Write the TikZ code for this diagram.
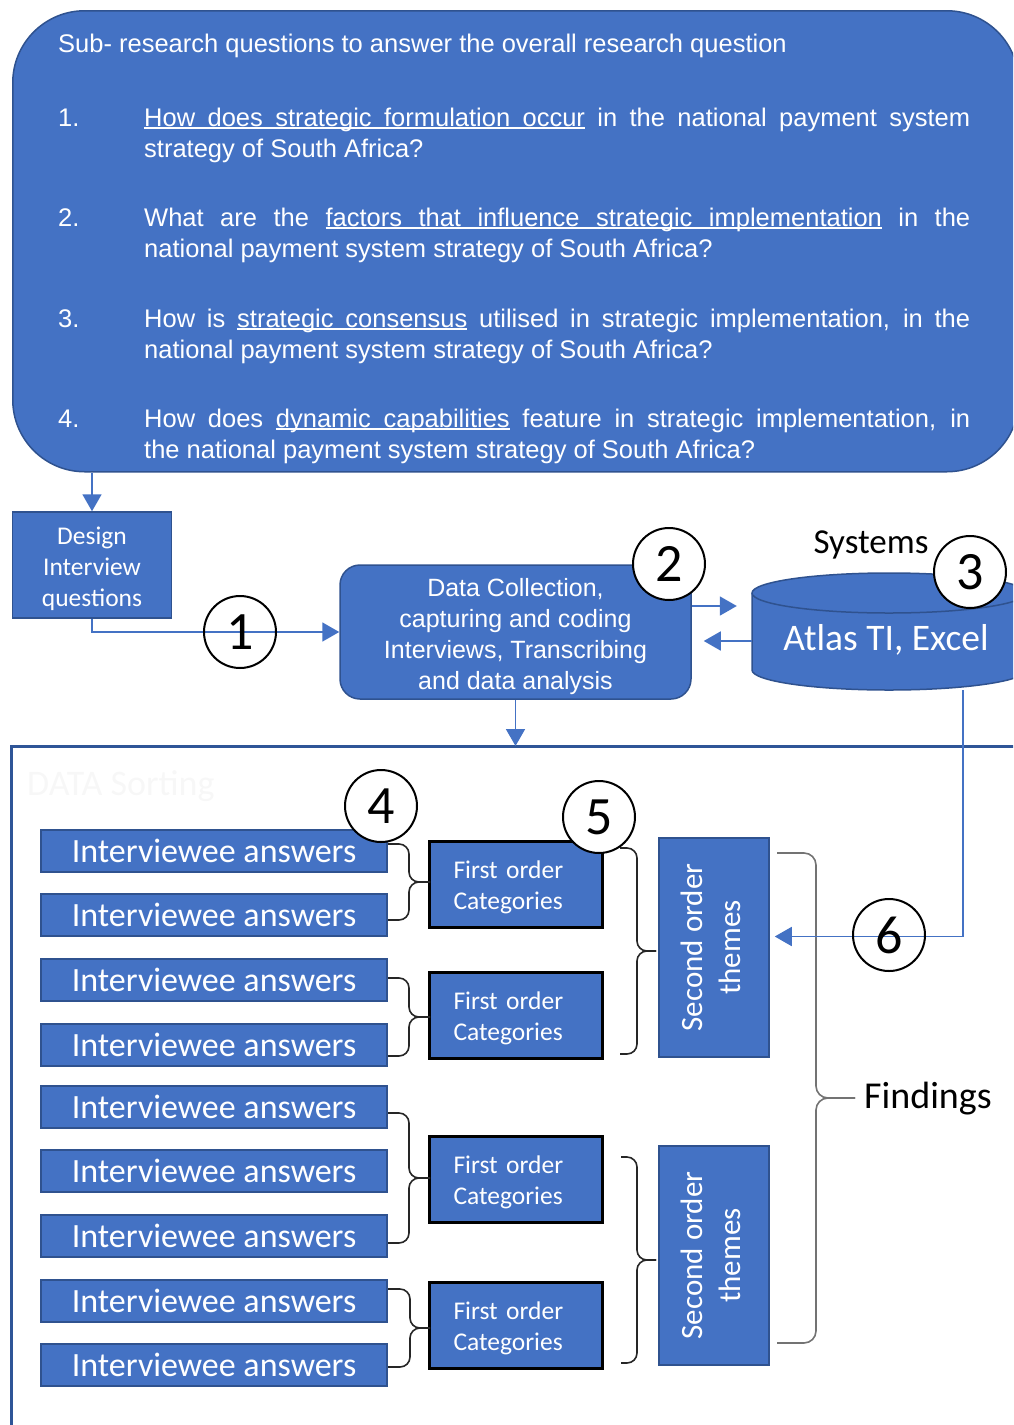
\documentclass[tikz,border=0pt]{standalone}
\usepackage{fontspec}
\setmainfont{Liberation Sans}
\newfontfamily\calfont{Carlito}
\usetikzlibrary{arrows.meta,calc}
\definecolor{boxblue}{HTML}{4472C4}
\definecolor{edgeblue}{HTML}{2F528F}
\definecolor{framecol}{HTML}{2F5597}

% underlined word and underlined (stretchable) interword space
\newcommand\ulw[1]{\leavevmode{\setbox0=\hbox{#1}\rlap{\vrule height -1.4pt depth 3pt width \wd0}\box0}}
\newcommand\ulsp{\leavevmode\leaders\hrule height -1.4pt depth 3pt\hskip\fontdimen2\font plus\fontdimen3\font minus\fontdimen4\font\relax}

% right-facing curly brace: x0, ytop, ybottom, xback, xtip
\newcommand\groupbrace[6][bracecol]{%
  \draw[bracestyle,#1] (#2,#3) -| (#5,{(#3+#4)/2}) -- (#6,{(#3+#4)/2});
  \draw[bracestyle,#1] (#2,#4) -| (#5,{(#3+#4)/2}) -- (#6,{(#3+#4)/2});
}

\begin{document}
\begin{tikzpicture}[x=1pt,y=-1pt,
  bluebox/.style={fill=boxblue, draw=edgeblue, line width=1.5pt, text=white, inner sep=0pt},
  ansbox/.style={bluebox, minimum width=346pt, minimum height=42pt,
    font=\calfont\fontsize{34}{40}\selectfont},
  fobox/.style={bluebox, draw=black, line width=3pt, minimum width=173pt, minimum height=86pt,
    text width=125pt, inner xsep=24pt, align=left, font=\calfont\fontsize{25.5}{31}\selectfont},
  sobox/.style={bluebox, minimum width=110pt, minimum height=219pt,
    font=\calfont\fontsize{31}{38}\selectfont},
  qtext/.style={text=white, inner sep=0pt, font=\fontsize{25.5}{31}\selectfont},
  numcirc/.style={circle, draw=black, line width=2pt, minimum size=72pt, inner sep=0pt,
    font=\calfont\fontsize{54}{60}\selectfont},
  arr/.style={draw=boxblue, line width=1.8pt, -{Triangle[length=17pt,width=19pt]}},
  bracestyle/.style={line width=1.6pt, rounded corners=10pt},
  bracecol/.style={draw=black!85},
  bigbrace/.style={draw=black!55, rounded corners=12pt},
  framestyle/.style={draw=framecol, line width=3pt}
]
\useasboundingbox (0,0) rectangle (1013,1425);
\clip (0,0) rectangle (1013,1425);

% ---------- research questions ----------
\node[bluebox, rounded corners=72pt, minimum width=1006pt, minimum height=461pt, anchor=north west]
  (rq) at (12,10) {};
\node[qtext, anchor=base west] (q0) at (58,52)
  {Sub- research questions to answer the overall research question};
\node[qtext, anchor=base west] (n1) at (58,126) {1.};
\node[qtext, anchor=base west] (q1) at (144,126) {\parbox[t]{826pt}{%
  \ulw{How}\ulsp\ulw{does}\ulsp\ulw{strategic}\ulsp\ulw{formulation}\ulsp\ulw{occur} in the national payment system\linebreak
  strategy of South Africa?}};
\node[qtext, anchor=base west] (n2) at (58,226) {2.};
\node[qtext, anchor=base west] (q2) at (144,226) {\parbox[t]{826pt}{%
  What are the \ulw{factors}\ulsp\ulw{that}\ulsp\ulw{influence}\ulsp\ulw{strategic}\ulsp\ulw{implementation} in the\linebreak
  national payment system strategy of South Africa?}};
\node[qtext, anchor=base west] (n3) at (58,327) {3.};
\node[qtext, anchor=base west] (q3) at (144,327) {\parbox[t]{826pt}{%
  How is \ulw{strategic}\ulsp\ulw{consensus} utilised in strategic implementation, in the\linebreak
  national payment system strategy of South Africa?}};
\node[qtext, anchor=base west] (n4) at (58,427) {4.};
\node[qtext, anchor=base west] (q4) at (144,427) {\parbox[t]{826pt}{%
  How does \ulw{dynamic}\ulsp\ulw{capabilities} feature in strategic implementation, in\linebreak
  the national payment system strategy of South Africa?}};

% ---------- data collection row ----------
\node[bluebox, minimum width=159pt, minimum height=106pt, align=center,
  font=\calfont\fontsize{25.5}{31}\selectfont] (dq) at (92,565)
  {\rule{0pt}{25pt}Design\\Interview\\questions};
\node[bluebox, rounded corners=20pt, minimum width=351pt, minimum height=134pt, align=center,
  font=\fontsize{25}{31}\selectfont] (dc) at (515.5,632)
  {\rule{0pt}{28pt}Data Collection,\\capturing and coding\\Interviews, Transcribing\\and data analysis};

% database cylinder
\fill[boxblue] (752,593) -- (752,670) arc[start angle=180, end angle=360, x radius=137pt, y radius=20pt]
  -- (1026,593) arc[start angle=0, end angle=180, x radius=137pt, y radius=20pt] -- cycle;
\draw[edgeblue, line width=1.5pt] (752,593) -- (752,670)
  arc[start angle=180, end angle=360, x radius=137pt, y radius=20pt] -- (1026,593)
  arc[start angle=0, end angle=180, x radius=137pt, y radius=20pt];
\draw[edgeblue, line width=1.5pt] (752,593) arc[start angle=180, end angle=360, x radius=137pt, y radius=20pt];
\node[inner sep=0pt, minimum width=268pt, minimum height=100pt, text=white,
  font=\calfont\fontsize{37.5}{42}\selectfont] (cyl) at (886,640) {Atlas TI, Excel};
\node[anchor=base, inner sep=0pt, font=\calfont\fontsize{35}{40}\selectfont] (sys) at (871,553) {Systems};

% ---------- data sorting frame ----------
\coordinate (fr) at (1030,746);
\coordinate (ftop) at (11,746);
\coordinate (fbot) at (11,1440);
\draw[framestyle] (fr) -- (ftop) -- (fbot);
\node[anchor=west, inner sep=0pt, text=black!3, font=\calfont\fontsize{36}{40}\selectfont]
  (ds) at (27,786) {DATA Sorting};

% interviewee answers
\foreach \i/\y in {1/851,2/915,3/980,4/1045,5/1107,6/1171,7/1236,8/1301,9/1365}
  \node[ansbox] (a\i) at (214,\y) {Interviewee answers};

% first order categories
\foreach \i/\y in {1/884,2/1015,3/1179,4/1325}
  \node[fobox] (f\i) at (516,\y) {\rule{0pt}{24pt}First order\\Categories};

% second order themes
\node[sobox] (s1) at (714,947.5)
  {\rotatebox{90}{\begin{tabular}{@{}c@{}}Second order\\themes\end{tabular}}};
\node[sobox] (s2) at (714,1255.5)
  {\rotatebox{90}{\begin{tabular}{@{}c@{}}Second order\\themes\end{tabular}}};

% braces grouping answers -> categories -> themes -> findings
\groupbrace{388}{844}{920}{409}{430}
\groupbrace{388}{978}{1056}{409}{430}
\groupbrace{388}{1113}{1243}{409}{430}
\groupbrace{388}{1289}{1367}{410}{430}
\groupbrace{620}{848}{1054}{637}{656}
\groupbrace{621}{1157}{1363}{637}{656}
\groupbrace[bigbrace]{777}{853}{1343}{816}{855}
\node[anchor=west, inner sep=0pt, font=\calfont\fontsize{38}{44}\selectfont] (fd) at (864,1099) {Findings};

% ---------- connectors ----------
\coordinate (a1c) at ([yshift=26pt]dc.east);
\coordinate (a2c) at ([yshift=-9pt]dc.east);
\coordinate (c6) at (963,690);
\draw[arr] (rq.south -| dq.north) -- (dq.north);
\draw[arr] (dq.south) |- (dc.west);
\draw[arr, shorten >=15pt] (a1c) -- (a1c -| cyl.west);
\draw[arr, shorten >=12pt] (a2c -| cyl.west) -- (a2c);
\draw[arr] (dc.south) -- (dc.south |- ftop);
\draw[arr, shorten >=5pt] (c6) |- ([yshift=11pt]s1.east);

% step numbers
\node[numcirc] (k1) at (240,632) {1};
\node[numcirc, fill=white] (k2) at (669,564) {2};
\node[numcirc, fill=white] (k3) at (970,572) {3};
\node[numcirc, fill=white] (k4) at (381,806) {4};
\node[numcirc, fill=white] (k5) at (599,817) {5};
\node[numcirc] (k6) at (889,935) {6};
\end{tikzpicture}
\end{document}
